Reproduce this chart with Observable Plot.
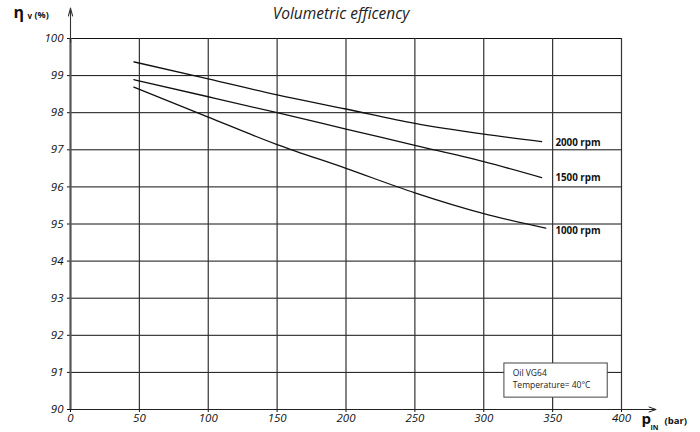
<!DOCTYPE html>
<html>
<head>
<meta charset="utf-8">
<script src="https://cdn.jsdelivr.net/npm/d3@7"></script>
<script src="https://cdn.jsdelivr.net/npm/@observablehq/plot@0.6"></script>
<style>
  html, body { margin: 0; padding: 0; background: #fff; }
  #chart svg { display: block; }
</style>
</head>
<body>
<div id="chart"></div>
<script>
// ---- data ----
const pressure1500_2000 = [46, 100, 150, 200, 250, 300, 342];
const pressure1000 = [46, 100, 150, 200, 250, 300, 345];
const eff2000 = [99.37, 98.91, 98.48, 98.10, 97.71, 97.42, 97.22];
const eff1500 = [98.89, 98.43, 98.00, 97.56, 97.12, 96.68, 96.25];
const eff1000 = [98.69, 97.88, 97.14, 96.50, 95.84, 95.28, 94.89];
const seriesNames = ["2000 rpm", "1500 rpm", "1000 rpm"];
const seriesLabelX = [352, 352, 352];
const seriesLabelY = [97.11, 96.16, 94.73];
const xTicks = [0, 50, 100, 150, 200, 250, 300, 350, 400];
const yTicks = [90, 91, 92, 93, 94, 95, 96, 97, 98, 99, 100];
const noteLines = ["Oil VG64", "Temperature= 40°C"];
const noteBox = {x1: 315, x2: 390, y1: 90.32, y2: 91.24};
const noteX = 321;
const noteY = [90.89, 90.57];
const axisEndX = 425;
const axisEndY = 100.82;
const title = "Volumetric efficency";

const rows = [
  ...pressure1500_2000.map((p, i) => ({p, eff: eff2000[i], s: seriesNames[0]})),
  ...pressure1500_2000.map((p, i) => ({p, eff: eff1500[i], s: seriesNames[1]})),
  ...pressure1000.map((p, i) => ({p, eff: eff1000[i], s: seriesNames[2]}))
];
const labels = seriesNames.map((name, i) => ({name, x: seriesLabelX[i], y: seriesLabelY[i]}));
const notes = noteLines.map((t, i) => ({t, x: noteX, y: noteY[i]}));

const font = "'Open Sans', 'Noto Sans', sans-serif";

const chart = Plot.plot({
  width: 700,
  height: 432,
  marginLeft: 70,
  marginRight: 79,
  marginTop: 38,
  marginBottom: 23,
  style: {fontFamily: font, color: "#111", background: "#fff", overflow: "visible"},
  x: {domain: [0, 400]},
  y: {domain: [90, 100]},
  marks: [
    Plot.gridY(yTicks.slice(1), {stroke: "#111", strokeOpacity: 1, strokeWidth: 1}),
    Plot.gridX(xTicks.slice(1), {stroke: "#333", strokeOpacity: 1, strokeWidth: 1.2}),
    Plot.axisX(xTicks, {tickSize: 3, tickPadding: 1, fontSize: 11.5, fontStyle: "italic", tickFormat: d => d, label: null, stroke: "#111"}),
    Plot.axisY(yTicks, {tickSize: 3, tickPadding: 4, fontSize: 11.5, fontStyle: "italic", tickFormat: d => d, label: null, stroke: "#111"}),
    Plot.arrow([0], {x1: 0, x2: axisEndX, y1: 90, y2: 90, stroke: "#222", strokeWidth: 1, headLength: 11, headAngle: 40}),
    Plot.ruleX([0], {y1: 90, y2: 100, stroke: "#555", strokeWidth: 2.2}),
    Plot.arrow([0], {x1: 0, x2: 0, y1: 99.9, y2: axisEndY, stroke: "#333", strokeWidth: 1.1, headLength: 11, headAngle: 30}),
    Plot.line(rows, {x: "p", y: "eff", z: "s", stroke: "#111", strokeWidth: 1.3, curve: "monotone-x"}),
    Plot.text(labels, {x: "x", y: "y", text: "name", textAnchor: "start", lineAnchor: "bottom", fontSize: 9.8, fontWeight: "bold", fill: "#111"}),
    Plot.rect([noteBox], {x1: "x1", x2: "x2", y1: "y1", y2: "y2", fill: "#fff", stroke: "#444", strokeWidth: 1}),
    Plot.text(notes, {x: "x", y: "y", text: "t", textAnchor: "start", lineAnchor: "bottom", fontSize: 8.5, fill: "#222"}),
    // title
    Plot.text([title], {frameAnchor: "top", text: d => d, dx: -5, dy: -20, lineAnchor: "bottom", fontSize: 15.5, fontStyle: "italic", fill: "#222"}),
    // y label  η_v (%)
    Plot.text(["η"], {frameAnchor: "top-left", text: d => d, dx: -57, dy: -21, textAnchor: "start", lineAnchor: "bottom", fontSize: 16, fontWeight: "bold", fill: "#111"}),
    Plot.text(["v"], {frameAnchor: "top-left", text: d => d, dx: -43, dy: -20, textAnchor: "start", lineAnchor: "bottom", fontSize: 8, fontWeight: "bold", fill: "#111"}),
    Plot.text(["(%)"], {frameAnchor: "top-left", text: d => d, dx: -36, dy: -21, textAnchor: "start", lineAnchor: "bottom", fontSize: 9, fontWeight: "bold", fill: "#111"}),
    // x label p_IN (bar)
    Plot.text(["p"], {frameAnchor: "bottom-right", text: d => d, dx: 20, dy: 14, textAnchor: "start", lineAnchor: "bottom", fontSize: 15, fontWeight: "bold", fill: "#111"}),
    Plot.text(["IN"], {frameAnchor: "bottom-right", text: d => d, dx: 29, dy: 20, textAnchor: "start", lineAnchor: "bottom", fontSize: 7, fontWeight: "bold", fill: "#111"}),
    Plot.text(["(bar)"], {frameAnchor: "bottom-right", text: d => d, dx: 43, dy: 14, textAnchor: "start", lineAnchor: "bottom", fontSize: 9.5, fontWeight: "bold", fill: "#111"})
  ]
});
document.getElementById("chart").appendChild(chart);
</script>
</body>
</html>
